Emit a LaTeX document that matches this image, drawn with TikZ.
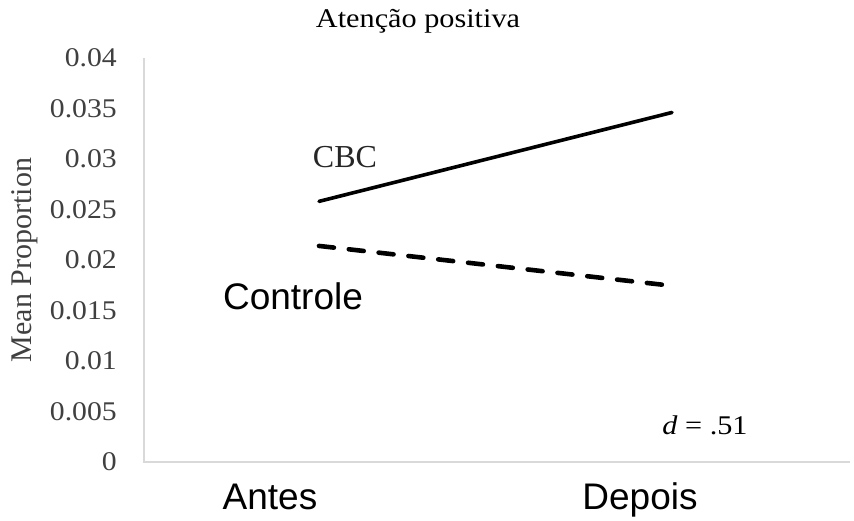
\documentclass[tikz,border=0pt]{standalone}
\usepackage{fontspec}
\setmainfont{Liberation Serif}
\newfontfamily\arialfont{Liberation Sans}
\tikzset{
    ticklabel/.style={anchor=east,text=black!75,font=\fontsize{27}{29}\selectfont,xscale=1.1,inner sep=0pt},
    catlabel/.style={anchor=base,font=\arialfont\fontsize{37}{40}\selectfont,inner sep=0pt},
    axisline/.style={black!15,line width=1.2pt}
}
\begin{document}
\begin{tikzpicture}[x=1pt,y=1pt]
    \useasboundingbox[fill=white] (0,0) rectangle (854,521);
    %% title and axis label
    \node[anchor=base,inner sep=0pt,xscale=1.12,font=\fontsize{27}{29}\selectfont] (title) at (418,493) {Aten\c{c}\~ao positiva};
    \node[rotate=90,inner sep=0pt,text=black!75,font=\fontsize{30}{32}\selectfont] (ylabel) at (25,261) {Mean Proportion};
    \begin{scope}[shift={(144,59)},y=10100pt]
        %% axes
        \coordinate (origin) at (0,0);
        \coordinate (ytop) at (0,0.04);
        \coordinate (xend) at (706,0);
        \draw[axisline] (ytop) -- (origin) -- (xend);
        \foreach \v [count=\i] in {0,0.005,0.01,0.015,0.02,0.025,0.03,0.035,0.04}
            \node[ticklabel] (tick\i) at (-27,\v) {\v};
        %% group means
        \coordinate (cbcpre) at (175,0.0258);
        \coordinate (cbcpost) at (528,0.0346);
        \coordinate (conpre) at (175,0.0214);
        \coordinate (conpost) at (523,0.0175);
        \draw[line width=3.6pt,line cap=round] (cbcpre) -- (cbcpost);
        \draw[line width=4.6pt,dash pattern=on 15pt off 15pt,line cap=round] (conpre) -- (conpost);
    \end{scope}
    %% labels
    \node[anchor=base,inner sep=0pt,font=\fontsize{32}{34}\selectfont,text=black!85] (cbc) at (345,353) {CBC};
    \node[catlabel] (controle) at (293,211) {Controle};
    \node[anchor=base,inner sep=0pt,xscale=1.12,font=\fontsize{27}{29}\selectfont] (effect) at (705,86) {\textit{d} = .51};
    \node[catlabel] (antes) at (270,11) {Antes};
    \node[catlabel] (depois) at (640,11) {Depois};
\end{tikzpicture}
\end{document}
